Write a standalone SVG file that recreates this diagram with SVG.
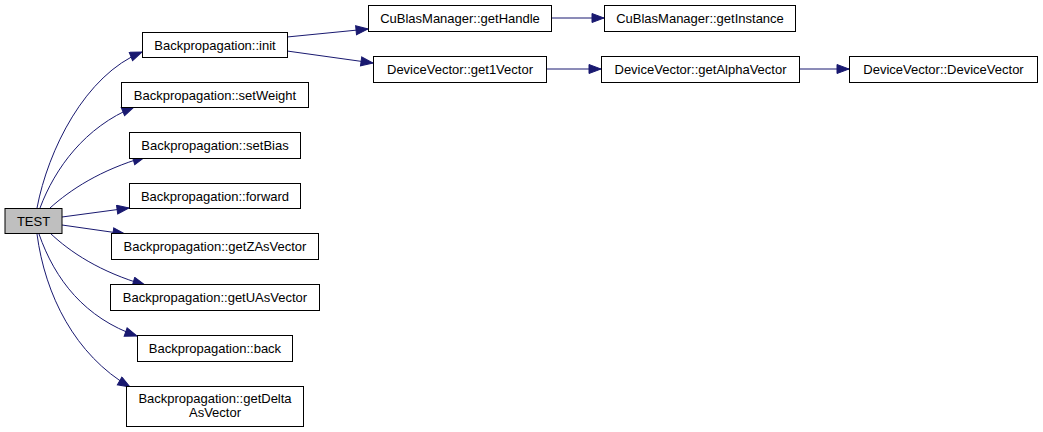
<svg xmlns="http://www.w3.org/2000/svg" width="1043" height="432" viewBox="0 0 1043 432">
<defs>
<style>
.n rect{fill:#fff;stroke:#000;stroke-width:1}
.n text{font-family:"Liberation Sans",Arial,sans-serif;font-size:13px;text-anchor:middle;fill:#000}
.e path{fill:none;stroke:#191970;stroke-width:1}
</style>
<marker id="a" markerUnits="userSpaceOnUse" markerWidth="14" markerHeight="11" refX="13" refY="5" orient="auto">
<path d="M1,0.5 L13,5 L1,9.5 z" fill="#191970" stroke="#191970"/>
</marker>
</defs>
<rect width="1043" height="432" fill="#fff"/>
<g class="e">
<path d="M37,208 C48,150 85,75 142,52" marker-end="url(#a)"/>
<path d="M40,208 C55,168 85,127 134,107" marker-end="url(#a)"/>
<path d="M50,208 C70,190 100,170 145,157" marker-end="url(#a)"/>
<path d="M62,217 L129,208" marker-end="url(#a)"/>
<path d="M62,225 L125,234" marker-end="url(#a)"/>
<path d="M50,233 C70,252 100,272 145,285" marker-end="url(#a)"/>
<path d="M39,234 C55,280 85,318 137,336" marker-end="url(#a)"/>
<path d="M37,234 C45,295 75,355 130,387" marker-end="url(#a)"/>
<path d="M287,37 L368,29" marker-end="url(#a)"/>
<path d="M287,51 L373,63" marker-end="url(#a)"/>
<path d="M551,18 L604,18" marker-end="url(#a)"/>
<path d="M546,69 L601,69" marker-end="url(#a)"/>
<path d="M799,69 L849,69" marker-end="url(#a)"/>
</g>
<g id="test" class="n"><rect x="5" y="208.5" width="57" height="25" style="fill:#bfbfbf"/><text x="33.5" y="225.5">TEST</text></g>
<g id="init" class="n"><rect x="142.5" y="32.5" width="145" height="25"/><text x="215" y="49.5">Backpropagation::init</text></g>
<g id="setWeight" class="n"><rect x="121.5" y="82.5" width="187" height="25"/><text x="215" y="99.5">Backpropagation::setWeight</text></g>
<g id="setBias" class="n"><rect x="129.5" y="132.5" width="171" height="26"/><text x="215" y="150">Backpropagation::setBias</text></g>
<g id="forward" class="n"><rect x="129.5" y="183.5" width="171" height="25"/><text x="215" y="200.5">Backpropagation::forward</text></g>
<g id="getZ" class="n"><rect x="111.5" y="233.5" width="207" height="26"/><text x="215" y="251">Backpropagation::getZAsVector</text></g>
<g id="getU" class="n"><rect x="110.5" y="284.5" width="209" height="26"/><text x="215" y="302">Backpropagation::getUAsVector</text></g>
<g id="back" class="n"><rect x="137.5" y="335.5" width="155" height="26"/><text x="215" y="353">Backpropagation::back</text></g>
<g id="getDelta" class="n"><rect x="126.5" y="386.5" width="177" height="40"/><text x="215" y="403">Backpropagation::getDelta</text><text x="215" y="417">AsVector</text></g>
<g id="getHandle" class="n"><rect x="368.5" y="5.5" width="183" height="26"/><text x="460" y="23">CuBlasManager::getHandle</text></g>
<g id="getInstance" class="n"><rect x="604.5" y="5.5" width="191" height="26"/><text x="700" y="23">CuBlasManager::getInstance</text></g>
<g id="get1Vector" class="n"><rect x="373.5" y="56.5" width="173" height="26"/><text x="460" y="74">DeviceVector::get1Vector</text></g>
<g id="getAlpha" class="n"><rect x="601.5" y="56.5" width="198" height="26"/><text x="700.5" y="74">DeviceVector::getAlphaVector</text></g>
<g id="dv" class="n"><rect x="849.5" y="56.5" width="188" height="26"/><text x="943.5" y="74">DeviceVector::DeviceVector</text></g>
</svg>
